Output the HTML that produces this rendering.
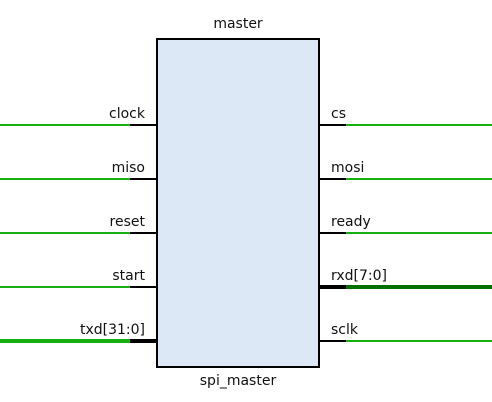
<!DOCTYPE html>
<html><head><meta charset="utf-8"><style>body{margin:0;background:#fff}svg{display:block}text{font-family:"DejaVu Sans","Liberation Sans",sans-serif;font-size:14px;fill:#111}</style></head>
<body>
<svg width="492" height="402">
<text x="238" y="28" text-anchor="middle">master</text>
<rect x="157" y="39" width="162" height="328" fill="#dde8f7" stroke="#000" stroke-width="2"/>
<text x="238" y="385" text-anchor="middle">spi_master</text>
<g id="pins"></g>
</svg>
<script>
const leftPins=["clock","miso","reset","start","txd[31:0]"];
const rightPins=["cs","mosi","ready","rxd[7:0]","sclk"];
const pinY=[125,179,233,287,341];
const g=document.getElementById('pins');
const NS="http://www.w3.org/2000/svg";
function ln(x1,x2,y,c,w,name){const l=document.createElementNS(NS,'line');l.setAttribute('x1',x1);l.setAttribute('x2',x2);l.setAttribute('y1',y);l.setAttribute('y2',y);l.setAttribute('stroke',c);l.setAttribute('stroke-width',w);


g.appendChild(l);}
function tx(x,y,s,a,name){const t=document.createElementNS(NS,'text');t.setAttribute('x',x);t.setAttribute('y',y);t.setAttribute('text-anchor',a);t.textContent=s;


g.appendChild(t);}
leftPins.forEach((p,i)=>{const y=pinY[i];const bus=p.includes('[');const w=bus?4:2;
ln(0,130,y,'#18b010',w,'wire-'+p.replace(/\[.*/,''));ln(130,157,y,'#000',w,'pin-'+p.replace(/\[.*/,''));tx(145,y-7,p,'end','label-'+p.replace(/\[.*/,''));});
rightPins.forEach((p,i)=>{const y=pinY[i];const bus=p.includes('[');const w=bus?4:2;
ln(346,492,y,bus?'#007000':'#18b010',w,'wire-'+p.replace(/\[.*/,''));ln(319,346,y,'#000',w,'pin-'+p.replace(/\[.*/,''));tx(331,y-7,p,'start','label-'+p.replace(/\[.*/,''));});
</script>
</body></html>
